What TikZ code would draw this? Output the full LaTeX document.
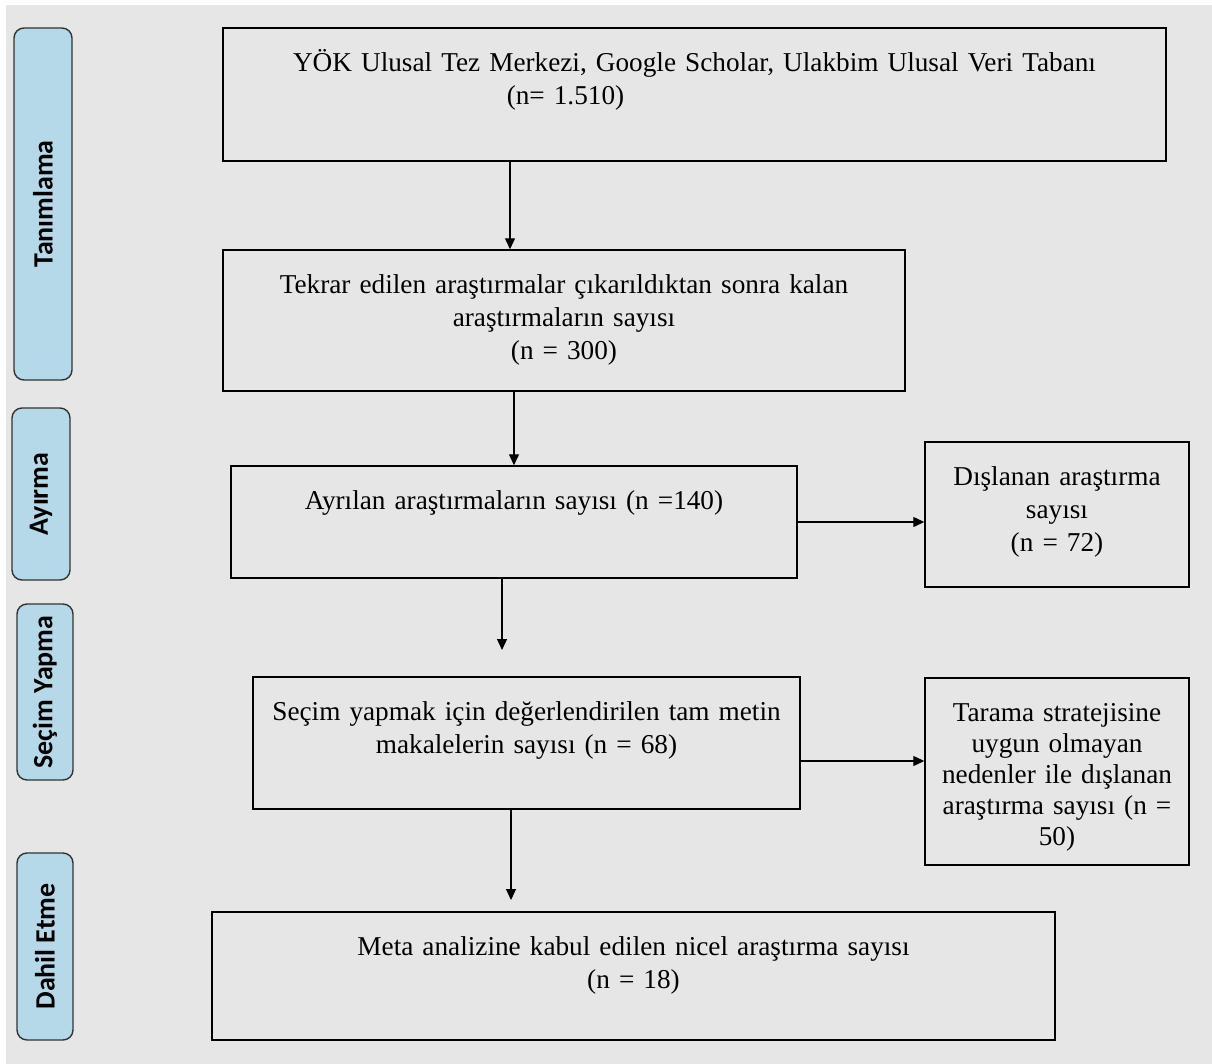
\documentclass[tikz,border=0pt]{standalone}
\usepackage{fontspec}
\setmainfont{Liberation Serif}
\newfontfamily\phasefont{Carlito}
\usetikzlibrary{shapes,arrows.meta,backgrounds}
\definecolor{bggray}{HTML}{E6E6E6}
\definecolor{phaseblue}{HTML}{B5D9E8}

\begin{document}
\begin{tikzpicture}[
    box/.style={rectangle,draw,line width=0.8pt},
    txt/.style={anchor=base,align=center,inner sep=0pt,font=\fontsize{15.5}{18.8}\selectfont},
    phase/.style={rectangle,rotate=90,rounded corners=0.2cm,draw=black!80,line width=0.8pt,
      fill=phaseblue,minimum height=1.16cm,font=\phasefont\bfseries\fontsize{15.9}{19}\selectfont},
    flow/.style={line width=0.7pt,-{Triangle[length=0.22cm,width=0.2cm]}}]
  \useasboundingbox (0,0) rectangle (24.24,-21.28);
  \fill[bggray] (0.12,-0.10) rectangle (24.24,-21.28);
  % phases on the left
  \node[phase,minimum width=7.04cm] at (0.86,-4.08) (p1) {Tanımlama};
  \node[phase,minimum width=3.44cm] at (0.82,-9.88) (p2) {Ayırma};
  \node[phase,minimum width=3.52cm,minimum height=1.12cm] at (0.90,-13.84) (p3) {Seçim Yapma};
  \node[phase,minimum width=3.74cm,minimum height=1.12cm] at (0.90,-18.93) (p4) {Dahil Etme};
  % boxes
  \node[box,minimum width=18.86cm,minimum height=2.66cm] at (13.89,-1.89) (b1) {};
  \node[box,minimum width=13.64cm,minimum height=2.82cm] at (11.28,-6.41) (b2) {};
  \node[box,minimum width=11.32cm,minimum height=2.24cm] at (10.28,-10.44) (b3) {};
  \node[box,minimum width=5.28cm,minimum height=2.90cm] at (21.14,-10.29) (b4) {};
  \node[box,minimum width=10.94cm,minimum height=2.64cm] at (10.53,-14.86) (b5) {};
  \node[box,minimum width=5.28cm,minimum height=3.74cm] at (21.14,-15.43) (b6) {};
  \node[box,minimum width=16.86cm,minimum height=2.56cm] at (12.67,-19.52) (b7) {};
  % texts
  \node[txt,text width=18.4cm] at ([yshift=-0.88cm]b1.north) (t1)
    {YÖK Ulusal Tez Merkezi, Google Scholar, Ulakbim Ulusal Veri Tabanı\\ \hspace*{-5.16cm}(n= 1.510)};
  \node[txt,text width=13.2cm] at ([yshift=-0.88cm]b2.north) (t2)
    {Tekrar edilen araştırmalar çıkarıldıktan sonra kalan\\araştırmaların sayısı\\(n = 300)};
  \node[txt,text width=11cm] at ([yshift=-0.88cm]b3.north) (t3)
    {Ayrılan araştırmaların sayısı (n =140)};
  \node[txt,text width=5.1cm] at ([yshift=-0.88cm]b4.north) (t4)
    {Dışlanan araştırma\\sayısı\\(n = 72)};
  \node[txt,text width=10.6cm] at ([yshift=-0.88cm]b5.north) (t5)
    {Seçim yapmak için değerlendirilen tam metin\\makalelerin sayısı (n = 68)};
  \node[txt,text width=5.1cm,font=\fontsize{15.5}{17.6}\selectfont] at ([yshift=-0.88cm]b6.north) (t6)
    {Tarama stratejisine\\uygun olmayan\\nedenler ile dışlanan\\araştırma sayısı (n =\\50)};
  \node[txt,text width=16.4cm] at ([yshift=-0.88cm]b7.north) (t7)
    {Meta analizine kabul edilen nicel araştırma sayısı\\(n = 18)};
  % arrows
  \coordinate (e1) at (10.04,-13.00);
  \coordinate (e2) at (10.22,-18.00);
  \draw[flow] ([xshift=-3.69cm]b1.south) -- ([xshift=-3.69cm]b1.south |- b2.north);
  \draw[flow] (b2.south -| b3.north) -- (b3.north);
  \draw[flow] (b3.east) -- (b3.east -| b4.west);
  \draw[flow] ([xshift=-0.24cm]b3.south) -- (e1);
  \draw[flow] ([yshift=-0.36cm]b5.east) -- ([yshift=-0.36cm]b5.east -| b6.west);
  \draw[flow] ([xshift=-0.31cm]b5.south) -- (e2);
\end{tikzpicture}
\end{document}
